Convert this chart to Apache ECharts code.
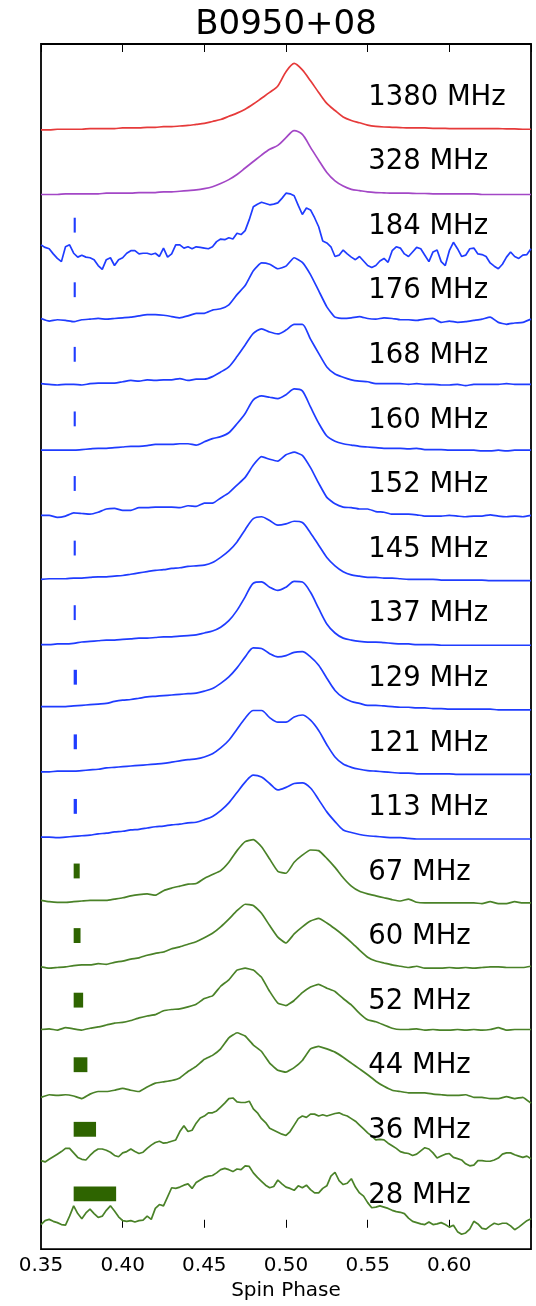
<!DOCTYPE html>
<html>
<head>
<meta charset="utf-8">
<script src="https://cdn.jsdelivr.net/npm/echarts@6/dist/echarts.min.js"></script>
<style>
html,body{margin:0;padding:0;background:#fff;}
#chart{width:536px;height:1306px;}
</style>
</head>
<body>
<div id="chart"></div>
<script>
// Pulse phase of each sample (coarse grid for clean profiles, fine grid for noisy ones)
const phaseCoarse = [
  0.350,0.355,0.360,0.365,0.370,0.375,0.380,0.385,0.390,0.395,
  0.400,0.405,0.410,0.415,0.420,0.425,0.430,0.435,0.440,0.445,
  0.450,0.455,0.460,0.465,0.470,0.475,0.480,0.485,0.490,0.495,
  0.500,0.505,0.510,0.515,0.520,0.525,0.530,0.535,0.540,0.545,
  0.550,0.555,0.560,0.565,0.570,0.575,0.580,0.585,0.590,0.595,
  0.600,0.605,0.610,0.615,0.620,0.625,0.630,0.635,0.640,0.645,
  0.650
];
const phaseFine = [
  0.3500,0.3525,0.3550,0.3575,0.3600,0.3625,0.3650,0.3675,0.3700,0.3725,
  0.3750,0.3775,0.3800,0.3825,0.3850,0.3875,0.3900,0.3925,0.3950,0.3975,
  0.4000,0.4025,0.4050,0.4075,0.4100,0.4125,0.4150,0.4175,0.4200,0.4225,
  0.4250,0.4275,0.4300,0.4325,0.4350,0.4375,0.4400,0.4425,0.4450,0.4475,
  0.4500,0.4525,0.4550,0.4575,0.4600,0.4625,0.4650,0.4675,0.4700,0.4725,
  0.4750,0.4775,0.4800,0.4825,0.4850,0.4875,0.4900,0.4925,0.4950,0.4975,
  0.5000,0.5025,0.5050,0.5075,0.5100,0.5125,0.5150,0.5175,0.5200,0.5225,
  0.5250,0.5275,0.5300,0.5325,0.5350,0.5375,0.5400,0.5425,0.5450,0.5475,
  0.5500,0.5525,0.5550,0.5575,0.5600,0.5625,0.5650,0.5675,0.5700,0.5725,
  0.5750,0.5775,0.5800,0.5825,0.5850,0.5875,0.5900,0.5925,0.5950,0.5975,
  0.6000,0.6025,0.6050,0.6075,0.6100,0.6125,0.6150,0.6175,0.6200,0.6225,
  0.6250,0.6275,0.6300,0.6325,0.6350,0.6375,0.6400,0.6425,0.6450,0.6475,
  0.6500
];

// Band labels, top to bottom
const bands = ['1380 MHz','328 MHz','184 MHz','176 MHz','168 MHz','160 MHz','152 MHz','145 MHz',
  '137 MHz','129 MHz','121 MHz','113 MHz','67 MHz','60 MHz','52 MHz','44 MHz','36 MHz','28 MHz'];

// Normalised profiles (peak ~ 1)
const prof1380 = [
  0.00,0.00,0.01,0.01,0.01,0.01,0.02,0.02,0.02,0.02,
  0.03,0.03,0.03,0.04,0.04,0.05,0.05,0.06,0.07,0.085,
  0.10,0.13,0.16,0.21,0.26,0.32,0.40,0.49,0.58,0.68,
  0.90,1.03,0.93,0.76,0.58,0.41,0.30,0.20,0.145,0.11,
  0.075,0.055,0.045,0.04,0.035,0.03,0.03,0.03,0.025,0.025,
  0.02,0.02,0.02,0.02,0.02,0.02,0.02,0.015,0.015,0.01,
  0.01
];
const prof328 = [
  0.00,0.00,0.00,0.01,0.01,0.01,0.01,0.01,0.02,0.02,
  0.02,0.02,0.03,0.03,0.03,0.04,0.04,0.05,0.06,0.07,
  0.09,0.12,0.17,0.23,0.31,0.41,0.51,0.61,0.70,0.76,
  0.88,0.99,0.93,0.73,0.53,0.34,0.21,0.13,0.08,0.06,
  0.04,0.03,0.025,0.02,0.02,0.02,0.015,0.015,0.01,0.01,
  0.01,0.01,0.01,0.01,0.00,0.00,0.00,0.00,0.00,0.00,
  0.00
];
const prof184 = [
  0.22,0.18,0.16,0.08,0.01,-0.04,0.19,0.22,0.09,0.03,
  0.06,0.03,0.02,-0.01,-0.10,-0.16,-0.01,0.02,-0.10,-0.01,
  0.02,0.09,0.13,0.13,0.08,0.09,0.09,0.07,0.09,0.04,
  0.17,0.03,0.08,0.22,0.22,0.17,0.19,0.16,0.19,0.18,
  0.17,0.16,0.19,0.27,0.31,0.30,0.33,0.31,0.40,0.38,
  0.44,0.61,0.81,0.85,0.88,0.86,0.84,0.85,0.87,0.94,
  1.02,1.01,0.98,0.83,0.69,0.79,0.76,0.64,0.50,0.28,
  0.25,0.19,0.04,0.06,0.14,0.08,0.03,-0.01,0.04,-0.03,
  -0.10,-0.13,-0.10,-0.03,0.01,-0.05,0.13,0.19,0.17,0.08,
  0.04,0.11,0.18,0.16,0.06,-0.04,0.11,0.14,-0.04,-0.10,
  0.13,0.26,0.16,0.04,0.06,0.16,0.17,0.08,0.07,0.04,
  -0.06,-0.11,-0.15,-0.08,0.03,0.11,0.04,0.01,0.06,0.07,
  0.16
];
const prof176 = [
  0.08,0.04,0.06,0.05,0.03,0.06,0.07,0.08,0.07,0.08,
  0.09,0.10,0.12,0.14,0.14,0.13,0.11,0.09,0.12,0.16,
  0.16,0.21,0.23,0.29,0.45,0.59,0.82,0.94,0.92,0.85,
  0.89,1.02,0.95,0.76,0.51,0.26,0.10,0.08,0.09,0.11,
  0.08,0.07,0.09,0.08,0.06,0.06,0.05,0.07,0.08,0.02,
  0.04,0.02,0.03,0.05,0.07,0.10,0.02,-0.01,0.01,0.02,
  0.07
];
const prof168 = [
  0.07,0.06,0.05,0.06,0.06,0.05,0.07,0.08,0.08,0.08,
  0.10,0.12,0.11,0.13,0.12,0.13,0.13,0.15,0.12,0.14,
  0.14,0.18,0.25,0.33,0.49,0.67,0.85,0.92,0.87,0.84,
  0.90,0.99,0.99,0.76,0.54,0.33,0.22,0.17,0.13,0.11,
  0.10,0.07,0.07,0.07,0.07,0.06,0.07,0.06,0.06,0.05,
  0.05,0.06,0.04,0.06,0.06,0.06,0.06,0.07,0.06,0.06,
  0.06
];
const prof160 = [
  0.04,0.04,0.04,0.04,0.04,0.05,0.06,0.07,0.07,0.08,
  0.09,0.10,0.10,0.11,0.13,0.13,0.13,0.14,0.14,0.12,
  0.17,0.22,0.25,0.31,0.45,0.61,0.82,0.88,0.86,0.84,
  0.90,0.99,0.96,0.71,0.46,0.26,0.18,0.14,0.12,0.10,
  0.09,0.08,0.07,0.07,0.07,0.06,0.07,0.05,0.05,0.05,
  0.04,0.04,0.04,0.04,0.03,0.03,0.04,0.03,0.04,0.04,
  0.04
];
const prof152 = [
  0.03,0.03,0.00,0.02,0.07,0.06,0.05,0.08,0.13,0.14,
  0.11,0.11,0.15,0.15,0.16,0.16,0.16,0.15,0.18,0.17,
  0.22,0.22,0.30,0.38,0.50,0.62,0.81,0.94,0.90,0.87,
  0.97,1.01,0.96,0.77,0.53,0.31,0.21,0.16,0.15,0.13,
  0.13,0.09,0.08,0.05,0.05,0.05,0.04,0.02,0.02,0.02,
  0.03,0.02,0.01,0.02,0.02,0.04,0.02,0.01,0.02,0.01,
  0.03
];
const prof145 = [
  0.04,0.05,0.05,0.05,0.06,0.06,0.07,0.08,0.08,0.09,
  0.10,0.12,0.14,0.16,0.18,0.19,0.21,0.22,0.24,0.25,
  0.26,0.30,0.38,0.48,0.62,0.81,0.98,1.01,0.95,0.88,
  0.90,0.94,0.92,0.76,0.57,0.38,0.25,0.16,0.11,0.09,
  0.07,0.07,0.06,0.06,0.05,0.04,0.04,0.04,0.04,0.03,
  0.03,0.03,0.03,0.03,0.03,0.02,0.02,0.02,0.02,0.02,
  0.02
];
const prof137 = [
  0.03,0.03,0.04,0.04,0.05,0.07,0.08,0.09,0.10,0.10,
  0.11,0.12,0.13,0.13,0.14,0.15,0.15,0.16,0.17,0.18,
  0.21,0.24,0.30,0.40,0.56,0.77,0.98,1.00,0.92,0.87,
  0.92,1.01,1.00,0.84,0.59,0.35,0.21,0.13,0.10,0.08,
  0.07,0.07,0.06,0.05,0.04,0.04,0.03,0.03,0.03,0.02,
  0.02,0.02,0.02,0.02,0.02,0.02,0.02,0.02,0.02,0.02,
  0.02
];
const prof129 = [
  0.07,0.07,0.07,0.07,0.08,0.09,0.10,0.11,0.12,0.15,
  0.17,0.18,0.20,0.22,0.23,0.24,0.25,0.26,0.27,0.28,
  0.31,0.35,0.43,0.53,0.67,0.84,0.98,0.97,0.89,0.84,
  0.86,0.91,0.92,0.84,0.71,0.51,0.32,0.21,0.15,0.12,
  0.09,0.09,0.08,0.07,0.06,0.06,0.05,0.05,0.04,0.04,
  0.03,0.03,0.03,0.03,0.03,0.03,0.02,0.02,0.02,0.02,
  0.02
];
const prof121 = [
  0.06,0.06,0.07,0.07,0.07,0.08,0.09,0.10,0.12,0.13,
  0.14,0.15,0.16,0.17,0.18,0.19,0.21,0.23,0.25,0.26,
  0.29,0.34,0.43,0.55,0.72,0.89,1.01,1.01,0.90,0.83,
  0.83,0.91,0.94,0.86,0.70,0.48,0.29,0.18,0.13,0.10,
  0.08,0.07,0.06,0.05,0.04,0.04,0.03,0.03,0.03,0.03,
  0.03,0.02,0.02,0.02,0.02,0.02,0.02,0.02,0.02,0.02,
  0.02
];
const prof113 = [
  0.05,0.05,0.04,0.05,0.06,0.07,0.08,0.10,0.11,0.13,
  0.14,0.16,0.17,0.19,0.21,0.22,0.24,0.25,0.27,0.28,
  0.32,0.37,0.46,0.58,0.74,0.90,1.01,0.98,0.88,0.78,
  0.82,0.88,0.89,0.81,0.63,0.44,0.29,0.16,0.12,0.09,
  0.07,0.06,0.05,0.04,0.04,0.03,0.02,0.02,0.02,0.02,
  0.02,0.02,0.02,0.02,0.02,0.02,0.02,0.02,0.02,0.02,
  0.02
];
const prof67 = [
  0.07,0.05,0.04,0.04,0.05,0.06,0.07,0.07,0.07,0.09,
  0.11,0.14,0.16,0.17,0.15,0.22,0.26,0.29,0.32,0.33,
  0.41,0.47,0.53,0.66,0.84,0.98,1.01,0.90,0.71,0.52,
  0.49,0.66,0.77,0.85,0.84,0.72,0.58,0.42,0.29,0.21,
  0.17,0.14,0.11,0.08,0.06,0.09,0.04,0.03,0.03,0.03,
  0.03,0.03,0.03,0.03,0.02,0.05,0.02,0.02,0.05,0.03,
  0.03
];
const prof60 = [
  0.04,0.02,0.03,0.04,0.06,0.07,0.07,0.09,0.08,0.11,
  0.13,0.16,0.18,0.22,0.25,0.27,0.32,0.35,0.39,0.43,
  0.49,0.56,0.66,0.78,0.91,1.01,0.99,0.87,0.68,0.50,
  0.41,0.55,0.66,0.75,0.79,0.72,0.63,0.53,0.42,0.30,
  0.19,0.13,0.10,0.07,0.05,0.03,0.05,0.02,0.02,0.02,
  0.03,0.02,0.03,0.02,0.03,0.04,0.04,0.03,0.03,0.03,
  0.05
];
const prof52 = [
  0.07,0.08,0.06,0.10,0.08,0.06,0.09,0.11,0.14,0.17,
  0.18,0.21,0.25,0.28,0.30,0.36,0.38,0.39,0.42,0.46,
  0.55,0.59,0.74,0.84,0.99,1.02,0.99,0.88,0.66,0.48,
  0.44,0.52,0.64,0.73,0.77,0.71,0.66,0.55,0.45,0.32,
  0.22,0.19,0.14,0.09,0.07,0.07,0.08,0.06,0.07,0.06,
  0.06,0.07,0.06,0.07,0.06,0.07,0.10,0.06,0.07,0.07,
  0.07
];
const prof44 = [
  0.02,0.06,0.05,0.06,0.04,0.00,0.07,0.11,0.11,0.13,
  0.16,0.13,0.11,0.18,0.24,0.26,0.28,0.32,0.42,0.50,
  0.61,0.67,0.77,0.94,1.02,0.97,0.83,0.73,0.55,0.44,
  0.41,0.48,0.59,0.77,0.81,0.77,0.72,0.64,0.55,0.46,
  0.37,0.27,0.19,0.13,0.11,0.09,0.09,0.09,0.07,0.06,
  0.05,0.05,0.06,0.02,0.02,0.00,0.00,0.03,0.00,0.02,
  -0.07
];
const prof36 = [
  0.04,0.02,0.06,0.10,0.14,0.18,0.23,0.23,0.16,0.09,
  0.06,0.05,0.12,0.18,0.22,0.22,0.20,0.17,0.12,0.10,
  0.16,0.18,0.22,0.18,0.15,0.17,0.23,0.28,0.32,0.34,
  0.31,0.32,0.34,0.36,0.49,0.58,0.49,0.51,0.62,0.70,
  0.73,0.78,0.78,0.81,0.87,0.93,1.00,1.01,0.95,0.94,
  0.94,0.96,0.84,0.78,0.69,0.63,0.54,0.51,0.48,0.45,
  0.43,0.49,0.59,0.69,0.73,0.71,0.76,0.76,0.73,0.75,
  0.73,0.75,0.77,0.78,0.75,0.73,0.69,0.65,0.59,0.53,
  0.47,0.42,0.36,0.37,0.36,0.31,0.27,0.23,0.18,0.16,
  0.15,0.12,0.14,0.19,0.24,0.22,0.16,0.08,0.11,0.14,
  0.15,0.09,0.07,0.05,-0.01,-0.04,-0.03,0.04,0.04,0.03,
  0.03,0.05,0.08,0.14,0.16,0.16,0.13,0.11,0.09,0.11,
  0.07
];
const prof28 = [
  0.05,0.11,0.13,0.10,0.08,0.05,0.04,0.18,0.34,0.22,
  0.14,0.23,0.29,0.22,0.16,0.18,0.27,0.34,0.26,0.17,
  0.11,0.10,0.11,0.09,0.11,0.12,0.18,0.13,0.30,0.36,
  0.34,0.48,0.62,0.61,0.63,0.66,0.68,0.61,0.70,0.74,
  0.78,0.80,0.81,0.85,0.90,0.92,0.90,0.87,0.91,0.90,
  0.96,0.95,0.85,0.78,0.72,0.66,0.62,0.64,0.74,0.68,
  0.63,0.61,0.58,0.65,0.62,0.66,0.59,0.54,0.54,0.61,
  0.65,0.80,0.86,0.73,0.67,0.69,0.76,0.63,0.54,0.49,
  0.39,0.31,0.32,0.34,0.32,0.30,0.27,0.25,0.24,0.22,
  0.15,0.10,0.08,0.06,0.05,0.09,0.05,0.06,0.08,0.05,
  0.01,0.04,-0.06,-0.10,-0.08,-0.02,0.10,0.06,-0.01,-0.02,
  0.03,0.07,0.05,0.07,0.07,0.03,-0.03,0.01,0.06,0.11,
  0.14
];

// Effective time resolution of each band, in phase units (null = not marked)
const resolution = [null,null,0.0013,0.0013,0.0013,0.0013,0.0013,0.0013,
  0.0013,0.0020,0.0020,0.0020,0.0037,0.0042,0.0058,0.0084,0.0137,0.0260];

const FONT = "'DejaVu Sans', 'Liberation Sans', sans-serif";
const RED = '#e63a3a', PURPLE = '#a347c6', BLUE = '#1f3cff', GREEN = '#4a8228', BAR_GREEN = '#2e6400';

const profileSeries = [
  { phase: phaseCoarse, values: prof1380, color: RED, smooth: 0.3 },
  { phase: phaseCoarse, values: prof328, color: PURPLE, smooth: 0.3 },
  { phase: phaseFine, values: prof184, color: BLUE, smooth: false },
  { phase: phaseCoarse, values: prof176, color: BLUE, smooth: 0.15 },
  { phase: phaseCoarse, values: prof168, color: BLUE, smooth: 0.25 },
  { phase: phaseCoarse, values: prof160, color: BLUE, smooth: 0.25 },
  { phase: phaseCoarse, values: prof152, color: BLUE, smooth: 0.15 },
  { phase: phaseCoarse, values: prof145, color: BLUE, smooth: 0.3 },
  { phase: phaseCoarse, values: prof137, color: BLUE, smooth: 0.3 },
  { phase: phaseCoarse, values: prof129, color: BLUE, smooth: 0.3 },
  { phase: phaseCoarse, values: prof121, color: BLUE, smooth: 0.3 },
  { phase: phaseCoarse, values: prof113, color: BLUE, smooth: 0.3 },
  { phase: phaseCoarse, values: prof67, color: GREEN, smooth: 0.15 },
  { phase: phaseCoarse, values: prof60, color: GREEN, smooth: 0.15 },
  { phase: phaseCoarse, values: prof52, color: GREEN, smooth: 0.1 },
  { phase: phaseCoarse, values: prof44, color: GREEN, smooth: 0.1 },
  { phase: phaseFine, values: prof36, color: GREEN, smooth: false },
  { phase: phaseFine, values: prof28, color: GREEN, smooth: false }
];

const N = bands.length;
const BAR_X = 0.37;        // left edge of the resolution markers
const LABEL_X = 0.55;      // left edge of the band labels
const offsetOf = i => N - 1 - i;   // vertical stacking offset

const series = [];
profileSeries.forEach((p, i) => {
  const off = offsetOf(i);
  series.push({
    type: 'line',
    data: p.phase.map((x, j) => [x, off + p.values[j]]),
    symbol: 'none',
    smooth: p.smooth,
    lineStyle: { color: p.color, width: 1.7 },
    silent: true,
    z: 3
  });
});

// Band labels
series.push({
  type: 'scatter',
  data: bands.map((b, i) => ({ name: b, value: [LABEL_X, offsetOf(i) + 0.5] })),
  symbolSize: 1,
  itemStyle: { color: 'rgba(0,0,0,0)' },
  label: {
    show: true, position: 'right', distance: 0, formatter: '{b}',
    fontSize: 27.5, fontFamily: FONT, color: '#000', opacity: 1
  },
  silent: true,
  z: 4
});

// Resolution markers
function barItems(colorTest) {
  const out = [];
  resolution.forEach((w, i) => {
    if (w !== null && colorTest(profileSeries[i].color)) out.push([BAR_X, w, offsetOf(i)]);
  });
  return out;
}
function renderBar(fill) {
  return function (params, api) {
    const x0 = api.value(0), w = api.value(1), off = api.value(2);
    const a = api.coord([x0, off + 0.41]);
    const b = api.coord([x0 + w, off + 0.64]);
    return {
      type: 'rect',
      shape: { x: a[0], y: b[1], width: b[0] - a[0], height: a[1] - b[1] },
      style: { fill: fill }
    };
  };
}
series.push({ type: 'custom', data: barItems(c => c === BLUE), renderItem: renderBar(BLUE), silent: true, z: 4 });
series.push({ type: 'custom', data: barItems(c => c === GREEN), renderItem: renderBar(BAR_GREEN), silent: true, z: 4 });

const tickStyle = { inside: true, length: 8, lineStyle: { color: '#000', width: 1 } };

const option = {
  animation: false,
  backgroundColor: '#fff',
  grid: { left: 41, right: 5, top: 44, bottom: 48, show: true, borderColor: '#000', borderWidth: 1.8, backgroundColor: 'transparent' },
  xAxis: [
    {
      type: 'value', position: 'bottom', min: 0.35, max: 0.65, interval: 0.05,
      axisLine: { show: false }, splitLine: { show: false },
      axisTick: tickStyle,
      axisLabel: {
        fontSize: 20, fontFamily: FONT, color: '#000', margin: 7,
        formatter: v => (v > 0.645 ? '' : v.toFixed(2))
      },
      name: 'Spin Phase', nameLocation: 'middle', nameGap: 31,
      nameTextStyle: { fontSize: 20, fontFamily: FONT, color: '#000' }
    },
    {
      type: 'value', position: 'top', min: 0.35, max: 0.65, interval: 0.05,
      axisLine: { show: false }, splitLine: { show: false },
      axisTick: tickStyle, axisLabel: { show: false }
    }
  ],
  yAxis: { type: 'value', min: -0.33, max: 18.33, show: false },
  graphic: [{
    type: 'text', x: 286, y: 25,
    style: {
      text: 'B0950+08', font: "34px 'DejaVu Sans', sans-serif", fill: '#000',
      align: 'center', verticalAlign: 'middle', textAlign: 'center', textVerticalAlign: 'middle'
    }
  }],
  series: series
};

const chart = echarts.init(document.getElementById('chart'), null, { renderer: 'canvas' });
chart.setOption(option);
</script>
</body>
</html>
